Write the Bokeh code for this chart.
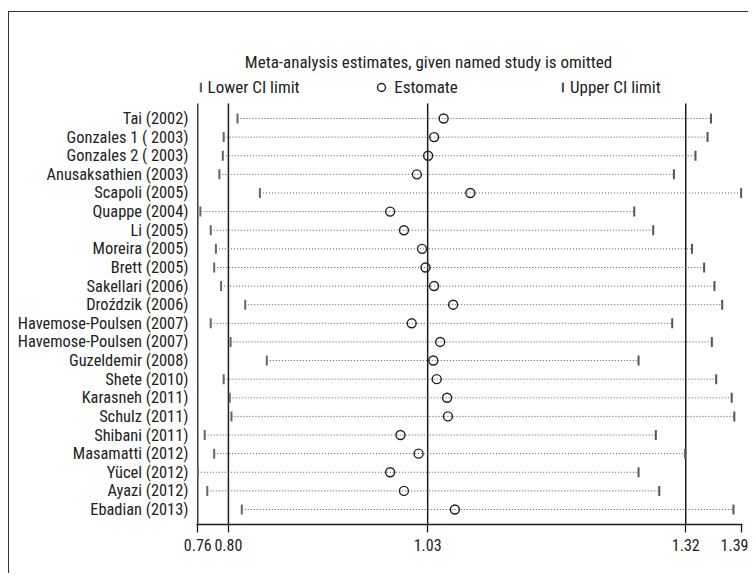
from bokeh.plotting import figure
from bokeh.models import Range1d, FixedTicker, Legend, LegendItem, Label
from bokeh.embed import file_html
from bokeh.resources import INLINE

studies = ["Tai (2002)", "Gonzales 1 ( 2003)", "Gonzales 2 ( 2003)", "Anusaksathien (2003)",
           "Scapoli (2005)", "Quappe (2004)", "Li (2005)", "Moreira (2005)", "Brett (2005)",
           "Sakellari (2006)", "Droździk (2006)", "Havemose-Poulsen (2007)",
           "Havemose-Poulsen (2007)", "Guzeldemir (2008)", "Shete (2010)", "Karasneh (2011)",
           "Schulz (2011)", "Shibani (2011)", "Masamatti (2012)", "Yücel (2012)",
           "Ayazi (2012)", "Ebadian (2013)"]
lower = [0.806, 0.790, 0.789, 0.785, 0.832, 0.763, 0.775, 0.781, 0.779, 0.787, 0.815,
         0.775, 0.798, 0.840, 0.790, 0.797, 0.799, 0.768, 0.779, 0.760, 0.771, 0.811]
estimate = [1.045, 1.034, 1.027, 1.014, 1.076, 0.983, 0.999, 1.020, 1.024, 1.034, 1.056,
            1.008, 1.041, 1.033, 1.037, 1.049, 1.050, 0.995, 1.016, 0.983, 0.999, 1.058]
upper = [1.355, 1.351, 1.337, 1.312, 1.390, 1.266, 1.288, 1.333, 1.347, 1.359, 1.368,
         1.310, 1.356, 1.271, 1.361, 1.379, 1.382, 1.291, 1.325, 1.271, 1.295, 1.381]
overall = [0.7955, 1.0265, 1.3257]
tick_values = [0.76, 0.7955, 1.0265, 1.3257, 1.39]
tick_labels = ["0.76", "0.80", "1.03", "1.32", "1.39"]
title_text = "Meta-analysis estimates, given named study is omitted"
legend_labels = ["Lower CI limit", "Estomate", "Upper CI limit"]

FONT = "'Roboto Condensed', 'Noto Sans Condensed', 'DejaVu Sans Condensed', sans-serif"
TXT = "#222222"
LINE = "#1e1e1e"

rows = list(range(len(studies)))
# vertical extent of the study area (rows) and of the whole frame, in row units
ROW_TOP, ROW_BOTTOM, FRAME_TOP = -0.806, 21.806, -4.136

p = figure(width=740, height=562, output_backend="svg", toolbar_location=None,
           x_range=Range1d(0.7585, 1.3915), y_range=Range1d(ROW_BOTTOM, FRAME_TOP),
           min_border_left=187, min_border_right=7, min_border_top=29, min_border_bottom=50)
p.margin = (11, 0, 0, 8)
p.outline_line_color = None
p.grid.visible = False
p.background_fill_color = "white"
p.border_fill_color = "white"
p.styles = {"border-top": "1px solid #333", "border-left": "1px solid #333"}

xa = p.xaxis[0]
xa.ticker = FixedTicker(ticks=tick_values, minor_ticks=[])
xa.major_label_overrides = {v: l for v, l in zip(tick_values, tick_labels)}
xa.major_tick_in = 0
xa.major_tick_out = 8
xa.minor_tick_line_color = None
xa.axis_line_width = 1.3
xa.axis_line_color = LINE
xa.major_tick_line_width = 1.3
xa.major_tick_line_color = LINE
xa.major_label_standoff = 6
xa.major_label_text_font = FONT
xa.major_label_text_font_size = "16px"
xa.major_label_text_color = TXT

ya = p.yaxis[0]
ya.ticker = FixedTicker(ticks=rows, minor_ticks=[])
ya.major_label_overrides = {i: s for i, s in zip(rows, studies)}
ya.major_tick_line_color = None
ya.major_tick_out = 0
ya.major_tick_in = 0
ya.minor_tick_line_color = None
ya.axis_line_color = None
ya.major_label_standoff = 8
ya.major_label_text_font = FONT
ya.major_label_text_font_size = "16.4px"
ya.major_label_text_color = TXT

# left axis line and the overall lower / estimate / upper lines, over the study rows only
p.segment(x0=[tick_values[0]], x1=[tick_values[0]], y0=[ROW_TOP], y1=[ROW_BOTTOM],
          line_color=LINE, line_width=1.3)
p.segment(x0=overall, x1=overall, y0=[ROW_TOP] * len(overall), y1=[ROW_BOTTOM] * len(overall),
          line_color=LINE, line_width=1.5)

p.segment(x0=lower, y0=rows, x1=upper, y1=rows, line_color="#555555", line_width=1,
          line_dash="1 2")
r_low = p.rect(x=lower, y=rows, width=2, height=10, width_units="screen",
               height_units="screen", fill_color="#666666", line_color=None)
r_up = p.rect(x=upper, y=rows, width=2, height=10, width_units="screen",
              height_units="screen", fill_color="#555555", line_color=None)
r_est = p.scatter(x=estimate, y=rows, size=9, marker="circle", fill_color=None,
                  line_color="#222222", line_width=1.4)

common = dict(orientation="horizontal", padding=0, margin=0, border_line_color=None,
              background_fill_alpha=0, label_text_font=FONT, label_text_font_size="17px",
              label_text_color=TXT)
leg_low = Legend(items=[LegendItem(label=legend_labels[0], renderers=[r_low])],
                 location=(2.6, 427), glyph_width=3, glyph_height=12, label_standoff=6,
                 label_text_baseline="alphabetic", **common)
leg_est = Legend(items=[LegendItem(label=legend_labels[1], renderers=[r_est])],
                 location=(175.3, 427.3), glyph_width=20, glyph_height=20, label_standoff=3,
                 **common)
leg_up = Legend(items=[LegendItem(label=legend_labels[2], renderers=[r_up])],
                location=(365, 427), glyph_width=3, glyph_height=12, label_standoff=6,
                label_text_baseline="alphabetic", **common)
for lg in (leg_low, leg_est, leg_up):
    p.add_layout(lg)

p.add_layout(Label(x=232, y=462.6, x_units="screen", y_units="screen", text=title_text,
                   text_align="center", text_baseline="middle", text_font=FONT,
                   text_font_size="17px", text_color=TXT))

open("out.html", "w").write(file_html(p, INLINE))
